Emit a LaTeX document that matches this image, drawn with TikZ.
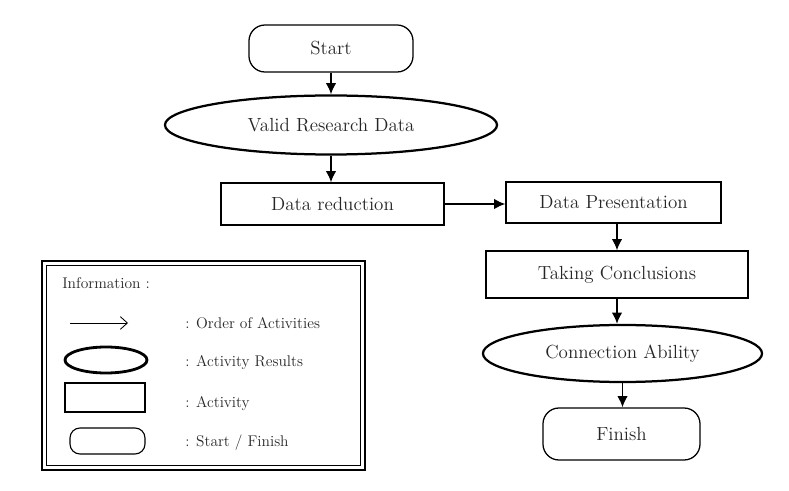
\documentclass[tikz,border=0pt]{standalone}
\usepackage{tikz}
\usetikzlibrary{positioning}
\usetikzlibrary{shapes.geometric}
\usetikzlibrary{arrows.meta}

\begin{document}
\begin{tikzpicture}[x=0.025cm, y=-0.025cm,
    every node/.style={text=black!85, font=\fontsize{13.5}{15}\selectfont, inner sep=0pt},
    term/.style={draw, line width=0.9pt, rounded corners=0.4cm},
    act/.style={draw, line width=0.9pt},
    result/.style={draw, ellipse, line width=1.6pt},
    flow/.style={-{Latex[length=8pt,width=7.5pt]}, line width=1.3pt},
    keytext/.style={anchor=west, font=\fontsize{11}{13}\selectfont}]
  \useasboundingbox (0,0) rectangle (789,491);

  % main flow
  \node[term, minimum width=4.1cm, minimum height=1.175cm] (start) at (331,48.5) {Start};
  \node[result, minimum width=8.3cm, minimum height=1.475cm] (valid) at (331,125) {Valid Research Data};
  \node[act, minimum width=5.575cm, minimum height=1.05cm] (reduc) at (332.5,204) {Data reduction};
  \node[act, minimum width=5.375cm, minimum height=1.025cm] (present) at (613.5,202.5) {Data Presentation};
  \node[act, minimum width=6.55cm, minimum height=1.175cm] (concl) at (617,274.5) {Taking Conclusions};
  \node[result, minimum width=6.975cm, minimum height=1.425cm] (ability) at (622.5,353.5) {Connection Ability};
  \node[term, minimum width=3.925cm, minimum height=1.3cm] (finish) at (621.5,434) {Finish};

  \draw[flow] (start.south) -- (valid.north);
  \draw[flow] (valid.south) -- (valid.south |- reduc.north);
  \draw[flow] (reduc.east) -- (reduc.east -| present.west);
  \draw[flow] (present.south -| concl.north) -- (concl.north);
  \draw[flow] (concl.south) -- (concl.south |- ability.north);
  \draw[flow] (ability.south) -- (ability.south |- finish.north);

  % legend
  \draw[line width=1.5pt] (42,261) rectangle (365,470);
  \draw[line width=0.6pt] (46.5,265.5) rectangle (360.5,465.5);
  \node[keytext] (info) at (62,283) {Information :};

  \coordinate (keyA) at (70,323);
  \coordinate (keyB) at (128,323);
  \draw[-{Straight Barb[length=5pt,width=9pt]}, line width=0.6pt] (keyA) -- (keyB);
  \node[draw, ellipse, line width=2pt, minimum width=2.05cm, minimum height=0.65cm] (keyell) at (106,360) {};
  \node[draw, line width=1.1pt, minimum width=2cm, minimum height=0.725cm] (keybox) at (105,397.5) {};
  \node[draw, line width=0.8pt, rounded corners=0.25cm, minimum width=1.875cm, minimum height=0.65cm] (keyround) at (107.5,441) {};

  \node[keytext] (k1) at (185,323) {: Order of Activities};
  \node[keytext] (k2) at (185,363) {: Activity Results};
  \node[keytext] (k3) at (185,404) {: Activity};
  \node[keytext] (k4) at (185,443) {: Start / Finish};
\end{tikzpicture}
\end{document}
